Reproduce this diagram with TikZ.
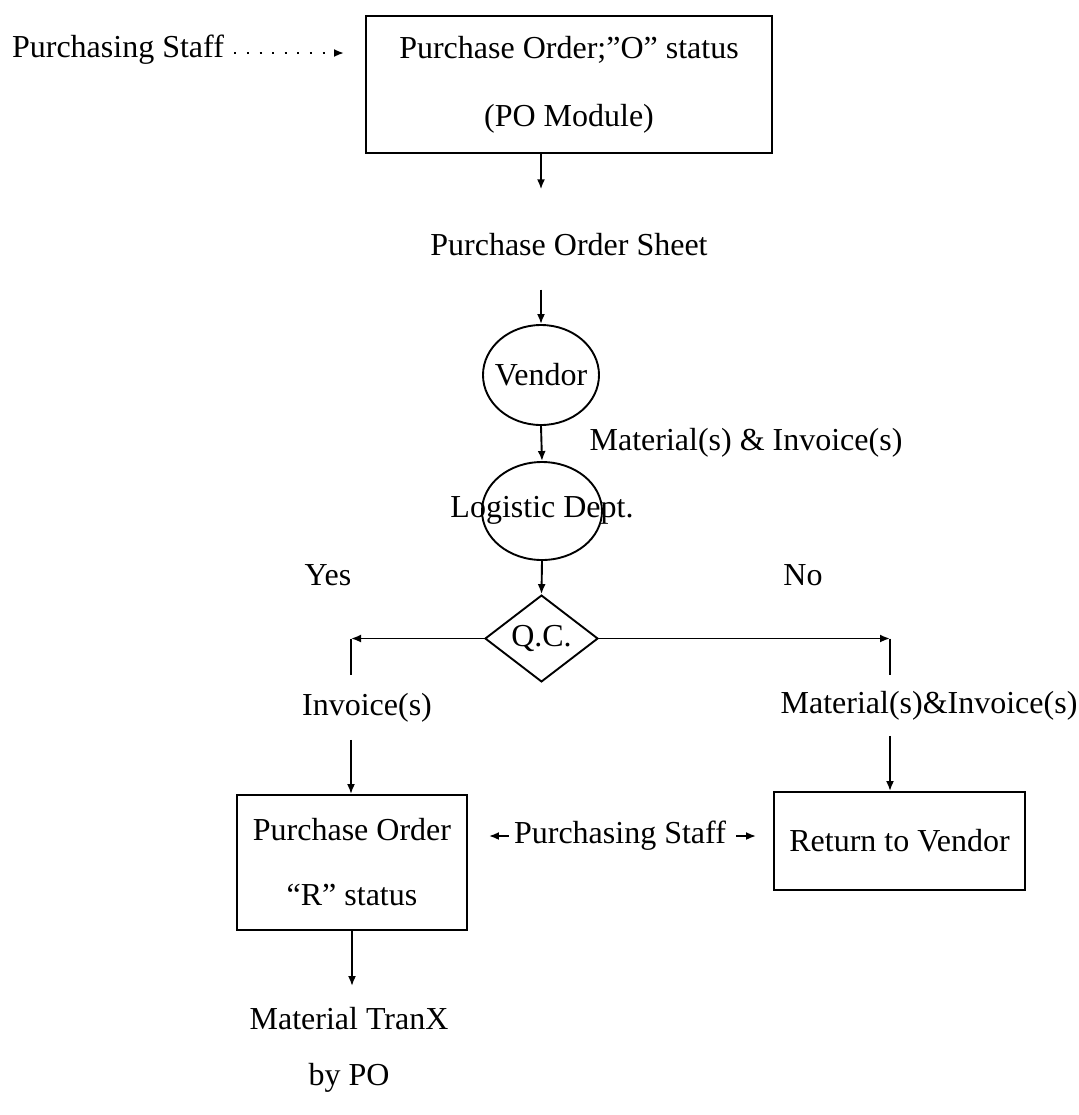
\documentclass[tikz,border=0pt]{standalone}
\usepackage{fontspec}
\setmainfont{Liberation Serif}
\usetikzlibrary{shapes.geometric,arrows.meta}

\begin{document}
\begin{tikzpicture}[x=0.5pt,y=-0.5pt,
    every node/.style={font=\fontsize{16}{19}\selectfont},
    lbl/.style={inner sep=0pt},
    ln/.style={line width=0.95pt},
    box/.style={draw, ln, rectangle},
    arr/.style={ln, -{Latex[length=5pt,width=4pt]}}]
    \useasboundingbox (0,0) rectangle (1078,1115);
    % purchase order in the PO module
    \node[lbl] (staff) at (118,50) {Purchasing Staff};
    \node[box, minimum width=203pt, minimum height=68.5pt, align=center,
          font=\fontsize{16}{34}\selectfont] (po) at (569,84.5) {Purchase Order;”O”\ status\\(PO Module)};
    \node[lbl] (sheet) at (569,245) {Purchase Order Sheet};
    \node[draw, ln, ellipse, minimum width=58pt, minimum height=50pt, label=center:Vendor] (vendor) at (541,375) {};
    \node[lbl] (matinv1) at (746,443) {Material(s) \& Invoice(s)};
    \node[draw, ln, ellipse, minimum width=60pt, minimum height=49pt] (logistic) at (542,511) {};
    \node[lbl] (logtxt) at (542,510) {Logistic Dept.};
    \node[draw, ln, diamond, inner sep=0pt, minimum width=56.5pt, minimum height=38.5pt] (qc) at (541.5,638.5) {Q.C.};
    \node[lbl] (yes) at (328,575) {Yes};
    \node[lbl] (no) at (803,575) {No};
    \node[lbl] (inv) at (367,708) {Invoice(s)};
    \node[lbl] (matinv) at (929,706) {Material(s)\&Invoice(s)};
    % the two outcomes
    \node[box, minimum width=115pt, minimum height=67.5pt, align=center,
          font=\fontsize{16}{32.5}\selectfont] (por) at (352,862.5) {Purchase Order\\“R”\ status};
    \node[box, minimum width=125.5pt, minimum height=49pt] (ret) at (899.5,841) {Return to Vendor};
    \node[lbl] (staff2) at (620,836) {Purchasing Staff};
    \node[lbl, align=center, font=\fontsize{16}{28}\selectfont] (tranx) at (349,1050) {Material TranX\\by PO};
    \coordinate (yescorner) at (351,638.5);
    \coordinate (nocorner) at (890,638.5);
    % connectors
    \draw[arr, line width=1pt, dash pattern=on 1pt off 5.3pt, shorten <=5pt, shorten >=10.5pt]
        ([yshift=-1.5pt]staff.east) -- ([yshift=-1.5pt]staff.east -| po.west);
    \draw[arr, shorten >=22pt] (po.south -| vendor.north) -- (sheet.north -| vendor.north);
    \draw[arr, shorten <=16.5pt] (sheet.south -| vendor.north) -- (vendor.north);
    \draw[arr] (vendor.south) -- (logistic.north);
    \draw[arr] (logistic.south) -- (qc.north);
    \draw[arr] (qc.west) -- (yescorner);
    \draw[arr] (qc.east) -- (nocorner);
    \draw[ln, shorten >=9pt] (yescorner) -- (yescorner |- inv.north);
    \draw[arr, shorten <=8.5pt] (yescorner |- inv.south) -- (yescorner |- por.north);
    \draw[ln, shorten >=8pt] (nocorner) -- (nocorner |- matinv.north);
    \draw[arr, shorten <=7.5pt] (nocorner |- matinv.south) -- (nocorner |- ret.north);
    \draw[arr, shorten <=2.5pt, shorten >=10.5pt] (staff2.west) -- (staff2.west -| por.east);
    \draw[arr, shorten <=5pt, shorten >=8.5pt] (staff2.east) -- (staff2.east -| ret.west);
    \draw[arr, shorten >=10.5pt] (por.south) -- (por.south |- tranx.north);
\end{tikzpicture}
\end{document}
